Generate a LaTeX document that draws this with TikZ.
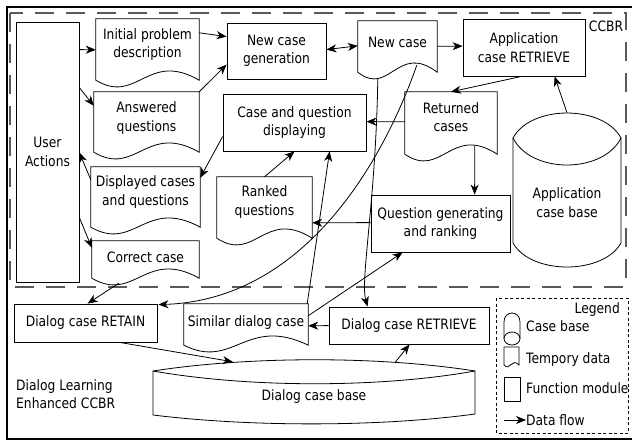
\documentclass[tikz,border=0pt]{standalone}
\usepackage{fontspec}
\setmainfont{DejaVu Sans}[FakeStretch=0.86]
\usetikzlibrary{arrows.meta,calc}
\tikzset{
  ln/.style={line width=0.8pt},
  fbox/.style={draw, ln, rectangle, align=center, inner sep=0pt},
  dnode/.style={rectangle, align=center, inner sep=0pt},
  tip/.tip={Stealth[length=10pt,width=8pt,inset=3pt]},
  arr/.style={ln, -tip},
  darr/.style={ln, tip-tip},
  ccbrbox/.style={draw=black!65, line width=1.4pt, dash pattern=on 19pt off 12pt},
  legbox/.style={draw, line width=0.8pt, dash pattern=on 3pt off 2.5pt},
}
\newcommand{\docout}[2]{\draw[ln] (#1.north west) -- (#1.north east) -- ($(#1.south east)+(0,#2)$) .. controls ($(#1.south west)!0.5!(#1.south east)+(0,#2-30)$) and ($(#1.south west)!0.4!(#1.south east)+(0,#2+25)$) .. ($(#1.south west)+(0,#2)$) -- cycle;}
\begin{document}
\begin{tikzpicture}[x=1pt,y=-1pt,font=\fontsize{14.3}{18.5}\selectfont]
\useasboundingbox (0,0) rectangle (632,441);
% outer frame and CCBR region
\draw[line width=2pt] (633,7) -- (7,7) -- (7,439) -- (633,439);
\draw[ccbrbox] (10,13) rectangle (626,287);
\node[dnode] (ccbr) at (606,26) {CCBR};

% function modules
\node[fbox, minimum width=63pt, minimum height=260pt] (ua) at (47.5,152) {User\\Actions};
\node[fbox, minimum width=99pt, minimum height=56pt] (ncg) at (276.5,51) {New case\\generation};
\node[fbox, minimum width=122pt, minimum height=57pt] (acr) at (524,47.5) {Application\\case RETRIEVE};
\node[fbox, minimum width=143pt, minimum height=57pt] (cqd) at (294.5,122.5) {Case and question\\displaying};
\node[fbox, minimum width=139pt, minimum height=57pt] (qgr) at (440.5,223.5) {Question generating\\and ranking};
\node[fbox, minimum width=143pt, minimum height=38pt] (dcr) at (85.5,323) {Dialog case RETAIN};
\node[fbox, minimum width=160pt, minimum height=37pt] (dcret) at (409,325.5) {Dialog case RETRIEVE};

% temporary data (documents)
\node[dnode, minimum width=103pt, minimum height=51pt] (ipd) at (147.5,44.5) {Initial problem\\description};
\docout{ipd}{10}
\node[dnode, minimum width=105pt, minimum height=52pt] (aq) at (146.5,118) {Answered\\questions};
\docout{aq}{8}
\node[dnode, minimum width=109pt, minimum height=50pt] (dcq) at (145.5,192) {Displayed cases\\and questions};
\docout{dcq}{10}
\node[dnode, minimum width=107pt, minimum height=32pt] (cc) at (145.5,257) {Correct case};
\docout{cc}{5}
\node[dnode, minimum width=79pt, minimum height=42pt] (nc) at (397.5,42) {New case};
\docout{nc}{9}
\node[dnode, minimum width=92pt, minimum height=50pt] (rc) at (451,117) {Returned\\cases};
\docout{rc}{12}
\node[dnode, minimum width=95pt, minimum height=50pt] (rq) at (264.5,202) {Ranked\\questions};
\docout{rq}{11}
\node[dnode, minimum width=124pt, minimum height=38pt] (sdc) at (246,323) {Similar dialog case};
\docout{sdc}{3}

% case bases
\node[dnode, minimum width=108pt, minimum height=129pt] (acb) at (567,202.5) {Application\\case base};
\draw[ln] (513,138) .. controls (531,104.7) and (603,104.7) .. (621,138) -- (621,243)
  .. controls (603,275) and (531,275) .. (513,243) -- cycle;
\draw[ln] (513,138) .. controls (531,174) and (603,174) .. (621,138);
\node[dnode, minimum width=322pt, minimum height=52pt] (dcb) at (314,397) {Dialog case base};
\draw[ln] (153,371) .. controls (250,356) and (380,356) .. (475,371) -- (475,414)
  .. controls (380,427) and (250,427) .. (153,415) -- cycle;
\draw[ln] (153,371) .. controls (250,388) and (380,388) .. (475,371);

\node[dnode, anchor=west, align=left] (dle) at (16,394) {Dialog Learning\\Enhanced CCBR};

% connectors
\draw[arr] ($(ua.north east)+(0,28)$) -- ($(ipd.north west)+(0,31)$);
\draw[arr] ($(ua.north east)+(0,66)$) -- ($(aq.north west)+(0,14)$);
\draw[arr] ($(dcq.north west)+(0,13)$) -- ($(ua.north east)+(0,131)$);
\draw[arr] ($(ua.north east)+(0,196)$) -- ($(cc.north west)+(0,7)$);
\draw[arr] ($(ipd.north east)+(0,14)$) -- ($(ncg.north west)+(0,14)$);
\draw[arr] (aq.north east) -- ($(ncg.north west)+(0,42)$);
\draw[darr] ($(ncg.north east)+(0,27)$) -- ($(nc.north west)+(0,25)$);
\draw[arr] ($(nc.north east)+(0,25.5)$) -- ($(acr.north west)+(0,27.5)$);
\draw[arr] ($(acr.south west)+(59,0)$) -- (rc.north);
\draw[arr] ($(acb.north)+(0,-25)$) -- ($(acr.south west)+(92,0)$);
\draw[arr] ($(rc.north west)+(0,30)$) -- ($(cqd.north east)+(0,28)$);
\draw[arr] ($(cqd.north west)+(0,43)$) -- ($(dcq.north east)+(0,11)$);
\draw[arr] (rq.north) -- (cqd.south);
\draw[arr] ($(rc.south west)+(70,4)$) -- ($(qgr.north west)+(104,0)$);
\draw[arr] ($(qgr.north west)+(0,28)$) -- ($(rq.north east)+(0,46)$);
\draw[arr] ($(nc.south west)+(20,15)$) .. controls (376,200) and (360,280) .. ($(dcret.north west)+(39,0)$);
\draw[arr] ($(nc.south west)+(59,2)$) .. controls (380,170) and (300,300) .. ($(dcr.north east)+(1,1)$);
\draw[arr] ($(sdc.north east)+(-1,0)$) -- ($(cqd.south west)+(107,0)$);
\draw[arr] ($(sdc.north east)+(0,12)$) -- ($(qgr.south west)+(32,0)$);
\draw[arr] ($(dcret.north west)+(0,19)$) -- ($(sdc.north east)+(0,22)$);
\draw[arr] ($(dcr.south west)+(106,0)$) -- ($(dcb.north west)+(80,-9)$);
\draw[arr] ($(dcb.north west)+(242,-8)$) -- ($(dcret.south west)+(81,0)$);
\draw[arr] ($(cc.south west)+(27,10)$) -- ($(dcr.north west)+(74,0)$);

% legend
\draw[legbox] (496,298) rectangle (628,433);
\node[dnode, anchor=east] (leg) at (620,310) {Legend};
\draw[ln] (504,338.5) -- (504,322) .. controls (504,310) and (520,310) .. (520,322) -- (520,338.5);
\draw[ln] (512,338.5) ellipse [x radius=8, y radius=6.5];
\node[dnode, anchor=west] (lcb) at (526,326) {Case base};
\draw[ln] (504,347) -- (519,347) -- (519,365) .. controls (511.5,357) and (510,372) .. (504,365) -- cycle;
\node[dnode, anchor=west] (ltd) at (526,360) {Tempory data};
\draw[ln] (504,377) rectangle (520,401);
\node[dnode, anchor=west] (lfm) at (526,388) {Function module};
\node[dnode, anchor=west] (lflow) at (526,420) {Data flow};
\draw[arr] ($(lflow.west)+(-22,0)$) -- (lflow.west);
\end{tikzpicture}
\end{document}
